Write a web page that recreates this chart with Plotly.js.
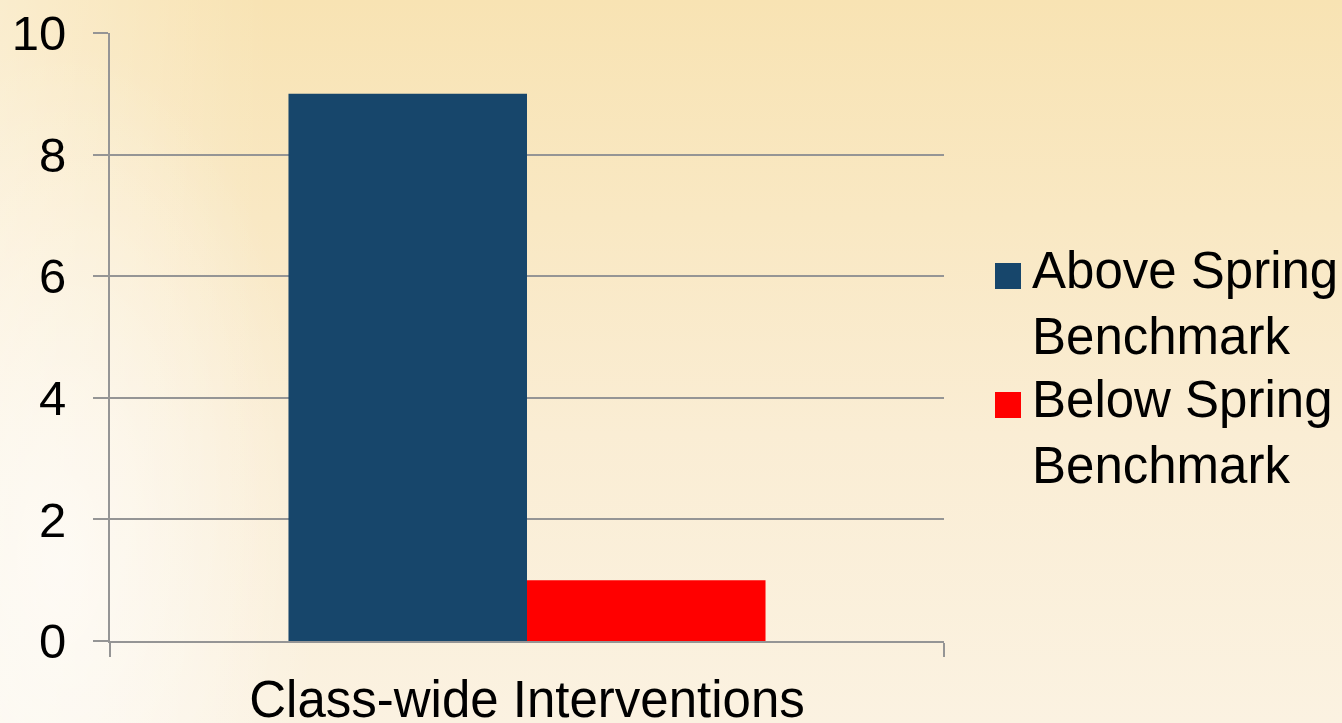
<!DOCTYPE html>
<html>
<head>
<meta charset="utf-8">
<script src="https://cdn.plot.ly/plotly-3.0.1.min.js"></script>
<style>
  html, body { margin: 0; padding: 0; }
  body {
    width: 1342px; height: 723px; overflow: hidden;
    background:
      radial-gradient(ellipse 260px 520px at 60px 560px, rgba(255,255,255,0.6) 0%, rgba(255,255,255,0) 100%),
      linear-gradient(to right, rgba(255,255,255,0.35) 0%, rgba(255,255,255,0.1) 14%, rgba(255,255,255,0) 20%),
      linear-gradient(to bottom, #F8E3B3 0%, #F9E8C3 30%, #FAEDD4 60%, #FBF2E1 100%);
  }
  #chart { width: 1342px; height: 723px; }
</style>
</head>
<body>
<div id="chart"></div>
<script>
const categories = ['Class-wide Interventions'];
const seriesNames = ['Above Spring Benchmark', 'Below Spring Benchmark'];
const aboveValues = [9];
const belowValues = [1];
const seriesColors = ['#17466B', '#FF0000'];
const yTickVals = [0, 2, 4, 6, 8, 10];
const yTickText = ['0', '2', '4', '6', '8', '10'];

const FONT = 'Liberation Sans, Arial, Helvetica, sans-serif';
const W = 1342, H = 723;
const L = 110, R = 398, T = 33, B = 82;
const pw = W - L - R, ph = H - T - B;
const px = v => (v - L) / pw;
const py = v => (H - B - v) / ph;

const traces = [
  { type: 'bar', name: seriesNames[0], x: categories, y: aboveValues,
    marker: { color: seriesColors[0] }, hoverinfo: 'none' },
  { type: 'bar', name: seriesNames[1], x: categories, y: belowValues,
    marker: { color: seriesColors[1] }, hoverinfo: 'none' }
];

// manual legend (large squares like the original)
const legendSquares = [[263, 289], [392, 418]];
const legendMid = [303, 432];
const shapes = [], annotations = [];
seriesNames.forEach((n, i) => {
  shapes.push({ type: 'rect', xref: 'paper', yref: 'paper',
    x0: px(995), x1: px(1021), y0: py(legendSquares[i][1]), y1: py(legendSquares[i][0]),
    fillcolor: seriesColors[i], line: { width: 0 } });
  annotations.push({ xref: 'paper', yref: 'paper', x: px(1030), y: py(legendMid[i]),
    xanchor: 'left', yanchor: 'middle', align: 'left', showarrow: false,
    text: n.replace(' Benchmark', '<br>Benchmark'),
    font: { family: FONT, size: 51, color: '#000000' } });
});

const layout = {
  width: W, height: H,
  margin: { l: L, r: R, t: T, b: B, pad: 0 },
  paper_bgcolor: 'rgba(0,0,0,0)',
  plot_bgcolor: 'rgba(0,0,0,0)',
  showlegend: false,
  barmode: 'group',
  bargap: 0.428,
  bargroupgap: 0,
  font: { family: FONT, size: 49, color: '#000000' },
  xaxis: {
    type: 'category', automargin: false,
    showline: true, linecolor: '#959595', linewidth: 2,
    ticks: 'outside', tickson: 'boundaries', ticklen: 14, tickwidth: 2, tickcolor: '#959595',
    showgrid: false, zeroline: false,
    tickfont: { family: FONT, size: 51, color: '#000000' },
    ticklabelstandoff: 13
  },
  yaxis: {
    range: [0, 10], automargin: false,
    tickmode: 'array', tickvals: yTickVals, ticktext: yTickText,
    showline: true, linecolor: '#959595', linewidth: 2,
    ticks: 'outside', ticklen: 15, tickwidth: 2, tickcolor: '#959595',
    showgrid: true, gridcolor: '#959595', gridwidth: 2,
    zeroline: false,
    tickfont: { family: FONT, size: 49, color: '#000000' },
    ticklabelstandoff: 17
  },
  shapes: shapes,
  annotations: annotations
};

Plotly.newPlot('chart', traces, layout, { displayModeBar: false, staticPlot: true });
</script>
</body>
</html>
